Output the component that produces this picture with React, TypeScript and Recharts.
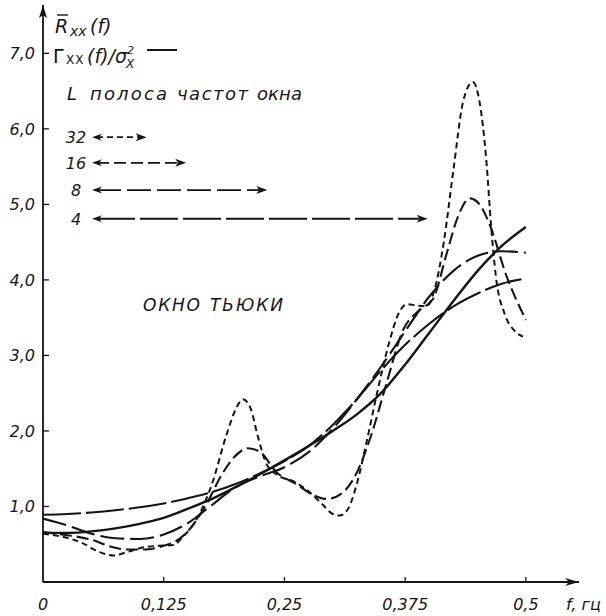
import React from "react";
import { LineChart, Line, XAxis, YAxis, ReferenceLine, ReferenceDot } from "recharts";

const INK = "#151515";
const FONT = "'DejaVu Sans', sans-serif";

// frequency grid for the smooth curves, cycles per interval
const freqGrid = [0, 0.025, 0.05, 0.075, 0.1, 0.125, 0.15, 0.175, 0.2, 0.225, 0.25, 0.275, 0.3, 0.325, 0.35, 0.375, 0.4, 0.425, 0.45, 0.475, 0.5];

// theoretical spectrum Γxx(f)/σx²
const theory = [0.65, 0.65, 0.67, 0.71, 0.77, 0.85, 0.97, 1.1, 1.26, 1.43, 1.61, 1.8, 2.0, 2.22, 2.5, 2.88, 3.3, 3.72, 4.12, 4.45, 4.7];
// Tukey window, L = 4
const tukey4 = [0.89, 0.9, 0.92, 0.95, 0.99, 1.04, 1.11, 1.19, 1.3, 1.44, 1.6, 1.8, 2.08, 2.42, 2.8, 3.14, 3.42, 3.65, 3.82, 3.95, 4.02];
// Tukey window, L = 8
const tukey8 = [0.84, 0.75, 0.64, 0.58, 0.57, 0.63, 0.78, 1.02, 1.26, 1.4, 1.52, 1.72, 2.03, 2.42, 2.85, 3.32, 3.78, 4.12, 4.32, 4.38, 4.36];

// Tukey window, L = 16
const freq16 = [0, 0.025, 0.05, 0.07, 0.087, 0.105, 0.125, 0.14, 0.155, 0.17, 0.185, 0.2, 0.212, 0.225, 0.242, 0.262, 0.28, 0.294, 0.31, 0.325, 0.34, 0.355, 0.373, 0.39, 0.404, 0.418, 0.43, 0.442, 0.452, 0.462, 0.48, 0.5];
const tukey16 = [0.66, 0.62, 0.56, 0.47, 0.43, 0.43, 0.48, 0.56, 0.75, 1.05, 1.42, 1.68, 1.77, 1.72, 1.45, 1.3, 1.15, 1.1, 1.18, 1.45, 1.95, 2.6, 3.34, 3.6, 3.75, 4.35, 4.85, 5.08, 5.0, 4.75, 4.05, 3.47];

// Tukey window, L = 32
const freq32 = [0, 0.02, 0.04, 0.058, 0.073, 0.088, 0.105, 0.12, 0.135, 0.145, 0.16, 0.175, 0.19, 0.2, 0.207, 0.215, 0.222, 0.232, 0.245, 0.26, 0.275, 0.29, 0.3, 0.307, 0.315, 0.325, 0.335, 0.345, 0.358, 0.368, 0.377, 0.387, 0.397, 0.405, 0.415, 0.425, 0.435, 0.445, 0.452, 0.459, 0.464, 0.469, 0.478, 0.488, 0.497];
const tukey32 = [0.64, 0.6, 0.52, 0.4, 0.35, 0.4, 0.46, 0.48, 0.49, 0.6, 0.85, 1.3, 1.95, 2.3, 2.42, 2.3, 1.95, 1.55, 1.4, 1.33, 1.2, 1.02, 0.9, 0.88, 0.95, 1.3, 1.85, 2.45, 3.15, 3.55, 3.68, 3.66, 3.65, 3.85, 4.5, 5.46, 6.36, 6.62, 6.36, 5.59, 4.71, 4.04, 3.55, 3.33, 3.25];

const xTicks = [0, 0.125, 0.25, 0.375, 0.5];
const xTickLabels = ["0", "0,125", "0,25", "0,375", "0,5"];
const yTicks = [1, 2, 3, 4, 5, 6, 7];
const yTickLabels = ["1,0", "2,0", "3,0", "4,0", "5,0", "6,0", "7,0"];

// window bandwidth bars: truncation point L and bandwidth in cycles
const lagLabels = ["32", "16", "8", "4"];
const bandwidths = [0.042, 0.083, 0.167, 0.333];
const bandLevels = [5.89, 5.55, 5.19, 4.81];
const BAND_START = 0.058;

// axis extents (arrow tips)
const F_MAX = 0.555;
const V_MAX = 7.64;

const dashFor: Record<string, string> = { "32": "6 4", "16": "12 5", "8": "24 6", "4": "38 5" };

const toPoints = (fs: number[], vs: number[]) => fs.map((f, i) => ({ f, v: vs[i] }));

const series = [
  { key: "theory", data: toPoints(freqGrid, theory), dash: undefined, width: 2.4 },
  { key: "L4", data: toPoints(freqGrid, tukey4), dash: dashFor["4"], width: 2.1 },
  { key: "L8", data: toPoints(freqGrid, tukey8), dash: dashFor["8"], width: 2.1 },
  { key: "L16", data: toPoints(freq16, tukey16), dash: dashFor["16"], width: 2.1 },
  { key: "L32", data: toPoints(freq32, tukey32), dash: dashFor["32"], width: 2.0 },
];

const textStyle = { fontFamily: FONT, fontStyle: "italic" as const, fill: INK };

const XTick = (p: any) => {
  const { x, y, payload } = p;
  const label = xTickLabels[xTicks.indexOf(payload.value)];
  return (
    <g>
      {payload.value > 0 && <line x1={x} x2={x} y1={y} y2={y - 5} stroke={INK} strokeWidth={1.3} />}
      <text x={x} y={y + 28} textAnchor="middle" fontSize={16} {...textStyle}>
        {label}
      </text>
    </g>
  );
};

const YTick = (p: any) => {
  const { x, y, payload } = p;
  const label = yTickLabels[yTicks.indexOf(payload.value)];
  return (
    <g>
      <line x1={x} x2={x + 6} y1={y} y2={y} stroke={INK} strokeWidth={1.3} />
      <text x={x - 8} y={y + 6} textAnchor="end" fontSize={16} {...textStyle}>
        {label}
      </text>
    </g>
  );
};

const upArrow = (p: any) => (
  <path d={`M${p.cx},${p.cy} L${p.cx + 4},${p.cy + 13} L${p.cx},${p.cy + 10} L${p.cx - 4},${p.cy + 13} Z`} fill={INK} />
);

const rightArrow = (p: any) => (
  <path d={`M${p.cx},${p.cy} L${p.cx - 14},${p.cy - 4} L${p.cx - 10},${p.cy} L${p.cx - 14},${p.cy + 4} Z`} fill={INK} />
);

// double-headed dashed bar with the L label in front of it
const bandShape = (label: string) => (p: any) => {
  const { x1, x2, y1 } = p;
  const a = x1 - 7;
  const b = x2 + 7;
  return (
    <g>
      <text x={76} y={y1 + 6} textAnchor="middle" fontSize={16} {...textStyle}>
        {label}
      </text>
      <line x1={a + 5} x2={b - 8} y1={y1} y2={y1} stroke={INK} strokeWidth={1.8} strokeDasharray={dashFor[label]} />
      <path d={`M${a},${y1} L${a + 10},${y1 - 3.5} L${a + 7},${y1} L${a + 10},${y1 + 3.5} Z`} fill={INK} />
      <path d={`M${b},${y1} L${b - 11},${y1 - 4} L${b - 8},${y1} L${b - 11},${y1 + 4} Z`} fill={INK} />
    </g>
  );
};

export default function App() {
  return (
    <div style={{ position: "absolute", left: 0, top: 0, width: 606, height: 616, background: "#fff" }}>
      <LineChart width={606} height={616} margin={{ top: 5, right: 27, bottom: 0, left: 0 }}>
        <XAxis
          type="number"
          dataKey="f"
          domain={[0, F_MAX]}
          allowDataOverflow
          ticks={xTicks}
          tick={(p: any) => <XTick {...p} />}
          tickLine={false}
          tickSize={0}
          tickMargin={0}
          height={34}
          axisLine={{ stroke: INK, strokeWidth: 1.8 }}
        />
        <YAxis
          type="number"
          domain={[0, V_MAX]}
          allowDataOverflow
          ticks={yTicks}
          tick={(p: any) => <YTick {...p} />}
          tickLine={false}
          tickSize={0}
          tickMargin={0}
          width={43}
          axisLine={{ stroke: INK, strokeWidth: 1.8 }}
        />
        {series.map((s) => (
          <Line
            key={s.key}
            data={s.data}
            dataKey="v"
            type="monotone"
            stroke={INK}
            strokeWidth={s.width}
            strokeDasharray={s.dash}
            dot={false}
            activeDot={false}
            isAnimationActive={false}
          />
        ))}
        {lagLabels.map((lag, i) => (
          <ReferenceLine
            key={lag}
            segment={[
              { x: BAND_START, y: bandLevels[i] },
              { x: BAND_START + bandwidths[i], y: bandLevels[i] },
            ]}
            ifOverflow="visible"
            shape={bandShape(lag)}
          />
        ))}
        <ReferenceDot x={0} y={V_MAX} r={0} ifOverflow="visible" shape={upArrow} />
        <ReferenceDot x={F_MAX} y={0} r={0} ifOverflow="visible" shape={rightArrow} />
      </LineChart>

      <svg width={606} height={616} style={{ position: "absolute", left: 0, top: 0, pointerEvents: "none" }}>
        {/* ordinate label */}
        <line x1={57} x2={68} y1={15} y2={15} stroke={INK} strokeWidth={1.4} />
        <text x={55} y={33} fontSize={19} {...textStyle}>
          R
        </text>
        <text x={70} y={36} fontSize={14} {...textStyle}>
          xx
        </text>
        <text x={90} y={33} fontSize={19} {...textStyle}>
          (f)
        </text>

        {/* theoretical curve key */}
        <text x={53} y={63} fontSize={19} fontFamily={FONT} fill={INK}>
          Γ
        </text>
        <text x={66} y={64} fontSize={12} fontFamily={FONT} fill={INK} letterSpacing={1}>
          XX
        </text>
        <text x={87} y={63} fontSize={19} {...textStyle}>
          (f)/σ
        </text>
        <text x={127} y={54} fontSize={11} {...textStyle}>
          2
        </text>
        <text x={126} y={68} fontSize={12} {...textStyle}>
          X
        </text>
        <line x1={147} x2={177} y1={50} y2={50} stroke={INK} strokeWidth={2} />

        {/* bandwidth key heading */}
        <text x={67} y={100} fontSize={18} {...textStyle}>
          L
        </text>
        <text x={90} y={100} fontSize={18} textLength={77} lengthAdjust="spacing" {...textStyle}>
          полоса
        </text>
        <text x={177} y={100} fontSize={18} textLength={71} lengthAdjust="spacing" {...textStyle}>
          частот
        </text>
        <text x={257} y={100} fontSize={18} textLength={45} lengthAdjust="spacing" {...textStyle}>
          окна
        </text>

        {/* window name */}
        <text x={143} y={311} fontSize={17} textLength={57} lengthAdjust="spacing" {...textStyle}>
          ОКНО
        </text>
        <text x={210} y={311} fontSize={17} textLength={73} lengthAdjust="spacing" {...textStyle}>
          ТЬЮКИ
        </text>

        {/* abscissa label */}
        <text x={566} y={610} fontSize={16} {...textStyle}>
          f, гц
        </text>
      </svg>
    </div>
  );
}
